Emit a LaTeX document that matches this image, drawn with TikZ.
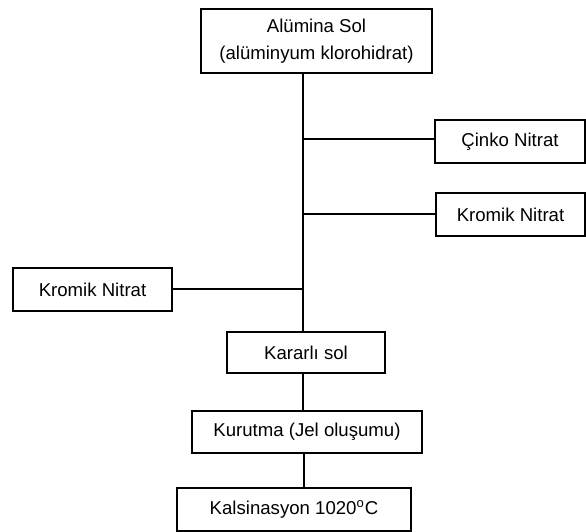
\documentclass[tikz,border=0pt]{standalone}
\usepackage{fontspec}
\setmainfont{Liberation Sans}
\usetikzlibrary{calc, positioning}

\begin{document}
\begin{tikzpicture}[x=0.5pt, y=-0.5pt, stage/.style={draw, line width=0.7pt, minimum height=21.5pt, inner sep=0pt, align=center, font=\fontsize{9.3}{13.5}\selectfont}, link/.style={line width=0.8pt}]
      \useasboundingbox (0,0) rectangle (586,532);
      \node[stage, minimum width=115.5pt, minimum height=32pt] (alumina) at (316.5,41) {Alümina Sol\\(alüminyum klorohidrat)};
      \node[stage, minimum width=75pt] (cinko) at (510,141.5) {Çinko Nitrat};
      \node[stage, minimum width=74.5pt] (kromik_r) at (510.5,214.5) {Kromik Nitrat};
      \node[stage, minimum width=79.5pt] (kromik_l) at (92.5,289.5) {Kromik Nitrat};
      \node[stage, minimum width=79pt, minimum height=20.5pt] (kararli) at (306,352.5) {Kararlı sol};
      \node[stage, minimum width=115pt, minimum height=21pt] (kurutma) at (307,432) {Kurutma (Jel oluşumu)};
      \node[stage, minimum width=117pt] (kalsinasyon) at (294,509.5) {Kalsinasyon 1020\textsuperscript{o}C};
      \coordinate (t_cinko) at (303,139);
      \coordinate (t_kromik_r) at (303,214);
      \coordinate (t_kromik_l) at (303,289);
      \draw[link] (alumina.south -| t_cinko) -- (kararli.north -| t_cinko);
      \draw[link] (t_cinko) -- (t_cinko -| cinko.west);
      \draw[link] (t_kromik_r) -- (t_kromik_r -| kromik_r.west);
      \draw[link] (t_kromik_l) -- (t_kromik_l -| kromik_l.east);
      \draw[link] (kararli.south -| t_cinko) -- (kurutma.north -| t_cinko);
      \draw[link] ($(kurutma.south -| t_cinko)+(1,0)$) -- ($(kalsinasyon.north -| t_cinko)+(1,0)$);
    \end{tikzpicture}
\end{document}
